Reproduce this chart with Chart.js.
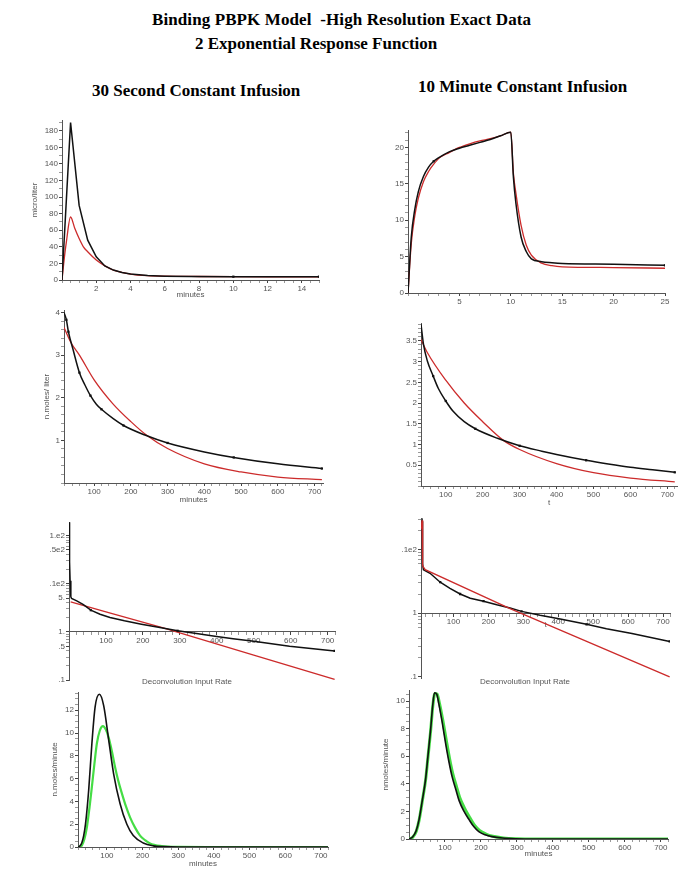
<!DOCTYPE html>
<html>
<head>
<meta charset="utf-8">
<script src="https://cdn.jsdelivr.net/npm/chart.js@4.4.1/dist/chart.umd.min.js"></script>
<style>
  body { margin: 0; background: #fff; width: 685px; height: 886px; position: relative; overflow: hidden; }
  .hd { position: absolute; font: bold 17px "Liberation Serif", "Times New Roman", serif; line-height: 17px; white-space: nowrap; color: #000; }
  .note { position: absolute; font: 8px "Liberation Sans", Arial, sans-serif; color: #555; white-space: nowrap; transform: translateX(-50%); }
</style>
</head>
<body>
<div class="hd" style="left:152px;top:11px;letter-spacing:0.1px">Binding PBPK Model&nbsp; -High Resolution Exact Data</div>
<div class="hd" style="left:195px;top:35px">2 Exponential Response Function</div>
<div class="hd" style="left:92px;top:82px">30 Second Constant Infusion</div>
<div class="hd" style="left:418px;top:78px">10 Minute Constant Infusion</div>

<script>
// ---- data ----
// top left: 30 s infusion, minutes vs concentration
const p1BlackT = [0, 0.5, 1, 1.5, 2, 2.5, 3, 3.5, 4, 5, 6, 7.5, 10, 15];
const p1BlackC = [0, 190, 90, 48, 28, 17, 12, 9, 7.2, 5.3, 4.6, 4.2, 4.0, 4.0];
const p1RedT = [0, 0.1, 0.25, 0.5, 0.75, 1, 1.25, 1.5, 2, 2.5, 3, 4, 5, 6, 8, 10, 12, 15];
const p1RedC = [0, 20, 45, 76, 62, 50, 40, 34, 24, 17, 12, 7.2, 5.2, 4.6, 4.2, 4.0, 3.9, 3.9];
const p1MarkT = [10, 15];
const p1MarkC = [4.0, 4.0];

// top right: 10 min infusion
const p2BlackT = [0, 0.32, 0.65, 1, 1.5, 2, 2.5, 3, 4, 5, 6, 7, 8, 9, 10, 10.25, 10.5, 11, 11.5, 12, 13, 14, 15, 20, 25];
const p2BlackC = [0, 7.7, 11.4, 13.9, 16, 17.3, 18.1, 18.6, 19.4, 19.9, 20.3, 20.7, 21.1, 21.6, 22.1, 16, 12.3, 7.7, 5.7, 4.7, 4.3, 4.15, 4.05, 3.95, 3.8];
const p2RedT = [0, 0.32, 0.65, 1, 1.5, 2, 2.5, 3, 4, 5, 6, 7, 8, 9, 10, 10.25, 10.5, 11, 11.5, 12, 13, 14, 15, 20, 25];
const p2RedC = [0, 6.8, 10.5, 13, 15.3, 16.7, 17.7, 18.5, 19.3, 20.0, 20.5, 20.9, 21.2, 21.6, 22.1, 16.5, 13.7, 9.3, 6.6, 5.2, 4.1, 3.75, 3.6, 3.5, 3.4];
const p2MarkT = [2.5, 25];
const p2MarkC = [18.1, 3.8];

// middle left: response, 30 s infusion
const p3BlackT = [18, 24.5, 30, 43, 60, 75, 90, 106, 120, 152, 180, 240, 300, 400, 480, 600, 720];
const p3BlackC = [4.0, 3.83, 3.55, 3.12, 2.59, 2.30, 2.05, 1.85, 1.73, 1.51, 1.35, 1.12, 0.94, 0.73, 0.60, 0.45, 0.34];
const p3RedT = [18, 38, 60, 100, 150, 200, 243, 300, 400, 500, 600, 720];
const p3RedC = [3.65, 3.28, 3.0, 2.42, 1.87, 1.44, 1.12, 0.81, 0.45, 0.26, 0.14, 0.08];
const p3MarkT = [24.5, 30, 60, 90, 120, 180, 300, 480, 720];
const p3MarkC = [3.83, 3.55, 2.59, 2.05, 1.73, 1.35, 0.94, 0.60, 0.34];

// middle right: response, 10 min infusion
const p4BlackT = [33, 40, 50, 66, 80, 100, 120, 150, 180, 240, 300, 360, 400, 480, 540, 600, 660, 720];
const p4BlackC = [3.9, 3.4, 3.02, 2.65, 2.35, 2.05, 1.8, 1.55, 1.38, 1.15, 0.97, 0.84, 0.76, 0.62, 0.53, 0.45, 0.39, 0.33];
const p4RedT = [33, 50, 100, 150, 200, 256, 300, 400, 500, 600, 720];
const p4RedC = [3.53, 3.22, 2.55, 2.0, 1.55, 1.1, 0.88, 0.54, 0.32, 0.19, 0.1];
const p4MarkT = [66, 100, 180, 300, 480, 720];
const p4MarkC = [2.65, 2.05, 1.38, 0.97, 0.62, 0.33];

// lower left: log plot, 30 s infusion
const p5BlackT = [0.5, 1, 1.5, 2, 3, 5, 7, 21, 39, 59, 84, 111, 150, 196, 246, 294, 345, 395, 444, 500, 597, 719];
const p5BlackC = [187, 90, 48, 28, 11.5, 5.3, 4.9, 4.38, 3.68, 2.81, 2.32, 1.98, 1.69, 1.44, 1.23, 1.05, 0.92, 0.81, 0.72, 0.64, 0.50, 0.40];
const p5RedT = [4.5, 100, 255, 500, 719];
const p5RedC = [4.17, 2.6, 1.2, 0.33, 0.103];
const p5MarkT = [59, 294, 719];
const p5MarkC = [2.81, 1.05, 0.40];

// lower right: log plot, 10 min infusion
const p6BlackT = [7, 9, 10, 11, 12, 14, 33, 62, 90, 119, 148, 186, 224, 262, 295, 348, 402, 481, 538, 611, 719];
const p6BlackC = [24, 27, 28, 10, 6, 4.85, 4.26, 3.08, 2.47, 2.01, 1.72, 1.55, 1.36, 1.21, 1.07, 0.93, 0.82, 0.67, 0.57, 0.48, 0.36];
const p6RedT = [7, 9, 10, 11, 12.5, 19, 262, 719];
const p6RedC = [22, 26, 29, 12, 5.6, 4.85, 1.18, 0.1];
const p6MarkT = [62, 119, 186, 295, 481, 719];
const p6MarkC = [3.08, 2.01, 1.55, 1.07, 0.67, 0.36];

// bottom left: deconvolution input rate, 30 s infusion
const p7BlackT = [19, 25, 30, 35, 40, 49, 58, 67, 79, 91, 105, 119, 137, 156, 174, 202, 230, 260, 300, 400, 720];
const p7BlackC = [0, 0.1, 0.4, 1.0, 2.0, 5.0, 9.1, 12.3, 13.4, 12.4, 9.4, 6.4, 3.8, 2.0, 1.0, 0.35, 0.1, 0.03, 0, 0, 0];
const p7GreenT = [19, 25, 30, 37, 44, 51, 58, 65, 72, 80, 89, 97, 105, 114, 123, 132, 142, 153, 165, 179, 193, 207, 221, 235, 249, 270, 300, 400, 720];
const p7GreenC = [0, 0.05, 0.15, 0.7, 1.75, 3.4, 5.3, 7.3, 9.1, 10.2, 10.6, 10.3, 9.6, 8.4, 7.0, 5.8, 4.7, 3.6, 2.6, 1.7, 1.0, 0.6, 0.3, 0.17, 0.1, 0.04, 0.01, 0, 0];

// bottom right: deconvolution input rate, 10 min infusion
const p8BlackT = [0, 10, 20, 28, 37, 46, 53, 60, 66, 71, 77, 83, 92, 102, 111, 120, 130, 139, 153, 167, 180, 194, 212, 231, 260, 296, 350, 720];
const p8BlackC = [0, 0.15, 0.6, 1.4, 2.8, 4.3, 6.1, 7.9, 9.7, 10.6, 10.5, 9.8, 8.5, 6.9, 5.6, 4.5, 3.6, 2.8, 2.0, 1.4, 0.9, 0.53, 0.3, 0.17, 0.07, 0.02, 0, 0];
const p8GreenT = [0, 10, 20, 28, 37, 46, 53, 60, 66, 72, 78, 85, 94, 104, 113, 122, 132, 141, 155, 169, 182, 196, 214, 233, 262, 300, 350, 720];
const p8GreenC = [0, 0.12, 0.55, 1.35, 2.75, 4.25, 6.0, 7.8, 9.6, 10.55, 10.5, 9.8, 8.6, 7.1, 5.8, 4.7, 3.8, 3.0, 2.2, 1.55, 1.0, 0.62, 0.36, 0.2, 0.08, 0.02, 0, 0];

// tick labels
const p1XTicks = [2, 4, 6, 8, 10, 12, 14];
const p1YTicks = [0, 20, 40, 60, 80, 100, 120, 140, 160, 180];
const p2XTicks = [5, 10, 15, 20, 25];
const p2YTicks = [0, 5, 10, 15, 20];
const minuteTicks = [100, 200, 300, 400, 500, 600, 700];
const p3YTicks = [1, 2, 3, 4];
const p4YTicks = [0.5, 1, 1.5, 2, 2.5, 3, 3.5];
const p5YTicks = [0.1, 0.5, 1, 5, 10, 50, 100];
const p5YLabels = ['.1', '.5', '1.', '5.', '.1e2', '.5e2', '1.e2'];
const p6YTicks = [0.1, 1, 10];
const p6YLabels = ['.1', '1', '.1e2'];
const p7YTicks = [0, 2, 4, 6, 8, 10, 12];
const p8YTicks = [0, 2, 4, 6, 8, 10];

// ---- drawing ----
const INK = '#111', RED = '#cc2b2b', GREEN = '#45dd45', AXIS = '#555', LABEL = '#555';
const smallFont = { family: 'Liberation Sans, Arial, sans-serif', size: 8 };

const pts = (xs, ys) => xs.map((x, i) => ({ x, y: ys[i] }));
const range = (a, b, step) => {
    const out = [];
    for (let v = a; v <= b + 1e-9; v += step) out.push(+v.toFixed(6));
    return out;
};
const logMinor = [0.2, 0.3, 0.4, 0.6, 0.7, 0.8, 0.9, 2, 3, 4, 6, 7, 8, 9, 20, 30, 40, 60, 70, 80, 90];

const line = (xs, ys, color, width, smooth) => ({
    data: pts(xs, ys), borderColor: color, borderWidth: width, pointRadius: 0,
    fill: false, cubicInterpolationMode: smooth ? 'monotone' : 'default', tension: 0
});
const marks = (xs, ys) => ({
    data: pts(xs, ys), showLine: false, pointStyle: 'rect', pointRadius: 1.6,
    backgroundColor: INK, borderColor: INK, borderWidth: 0
});

const axis = (o) => ({
    type: o.log ? 'logarithmic' : 'linear',
    min: o.min, max: o.max,
    position: o.position,
    bounds: 'data',
    afterBuildTicks: s => {
        const all = [...new Set([...(o.minor || []), ...o.ticks])]
            .filter(v => v >= o.min && v <= o.max).sort((a, b) => a - b);
        s.ticks = all.map(v => ({ value: v }));
    },
    afterFit: s => {
        if (s.isHorizontal()) s.height = o.size; else s.width = o.size;
    },
    ticks: {
        autoSkip: false, maxRotation: 0, minRotation: 0, padding: 1,
        color: LABEL, font: smallFont,
        callback: v => {
            const i = o.ticks.indexOf(v);
            return i < 0 ? '' : (o.labels ? o.labels[i] : String(v));
        }
    },
    grid: {
        drawOnChartArea: false, drawTicks: true, tickLength: 3, tickWidth: 1,
        tickColor: c => (c.tick && c.tick.label) ? '#444' : '#999'
    },
    border: { display: true, color: AXIS, width: 1, dash: o.dash || [] },
    title: { display: !!o.title, text: o.title || '', color: LABEL, font: smallFont, padding: 0 }
});

const panels = [
    { l: 62, r: 319, t: 120, b: 280, yw: 32, xh: 20,
      x: { min: 0, max: 15, ticks: p1XTicks, minor: range(0, 15, 0.5), title: 'minutes' },
      y: { min: 0, max: 193, ticks: p1YTicks, minor: range(0, 190, 10), title: 'micro/liter' },
      sets: [marks(p1MarkT, p1MarkC), line(p1BlackT, p1BlackC, INK, 1.5, false), line(p1RedT, p1RedC, RED, 1.3, true)] },
    { l: 408, r: 665, t: 130, b: 293, yw: 26, xh: 16,
      x: { min: 0, max: 25, ticks: p2XTicks, minor: range(0, 25, 1) },
      y: { min: 0, max: 22.4, ticks: p2YTicks, minor: range(0, 22, 1) },
      sets: [marks(p2MarkT, p2MarkC), line(p2BlackT, p2BlackC, INK, 1.5, true), line(p2RedT, p2RedC, RED, 1.3, true)] },
    { l: 64, r: 323, t: 310, b: 483, yw: 22, xh: 22,
      x: { min: 18, max: 723, ticks: minuteTicks, minor: range(20, 720, 20), title: 'minutes' },
      y: { min: 0, max: 4.06, ticks: p3YTicks, minor: range(0, 4, 0.2), title: 'n.moles/ liter' },
      sets: [marks(p3MarkT, p3MarkC), line(p3BlackT, p3BlackC, INK, 1.5, true), line(p3RedT, p3RedC, RED, 1.3, true)] },
    { l: 421, r: 677, t: 323, b: 486, yw: 30, xh: 22,
      x: { min: 33, max: 726, ticks: minuteTicks, minor: range(40, 720, 20), title: 't' },
      y: { min: 0, max: 3.93, ticks: p4YTicks, minor: range(0, 3.9, 0.1) },
      sets: [marks(p4MarkT, p4MarkC), line(p4BlackT, p4BlackC, INK, 1.5, true), line(p4RedT, p4RedC, RED, 1.3, true)] },
    { l: 69, r: 335, t: 522, b: 680, yw: 30, xh: 0, padBottom: 8,
      x: { min: 0, max: 720, ticks: minuteTicks, minor: range(20, 720, 20), position: { y: 1 }, dash: [1, 4] },
      y: { log: true, min: 0.1, max: 190, ticks: p5YTicks, labels: p5YLabels, minor: logMinor },
      sets: [marks(p5MarkT, p5MarkC), line(p5BlackT, p5BlackC, INK, 1.5, false), line(p5RedT, p5RedC, RED, 1.3, false)] },
    { l: 421, r: 670, t: 518, b: 668, yw: 30, xh: 16,
      x: { min: 7, max: 720, ticks: minuteTicks, minor: range(20, 720, 20), position: { y: 1 }, dash: [1, 4], title: 't' },
      y: { log: true, min: 0.095, max: 31.6, ticks: p6YTicks, labels: p6YLabels, minor: logMinor },
      sets: [marks(p6MarkT, p6MarkC), line(p6RedT, p6RedC, RED, 1.3, false), line(p6BlackT, p6BlackC, INK, 1.5, false)] },
    { l: 78, r: 328, t: 692, b: 847, yw: 28, xh: 22,
      x: { min: 19, max: 720, ticks: minuteTicks, minor: range(20, 720, 20), title: 'minutes' },
      y: { min: 0, max: 13.6, ticks: p7YTicks, minor: range(0, 13.5, 0.5), title: 'n.moles/minute' },
      sets: [line(p7BlackT, p7BlackC, INK, 1.6, true), line(p7GreenT, p7GreenC, GREEN, 2.2, true)] },
    { l: 409, r: 668, t: 690, b: 839, yw: 28, xh: 20,
      x: { min: 0, max: 720, ticks: minuteTicks, minor: range(20, 720, 20), title: 'minutes', dash: [1, 4] },
      y: { min: 0, max: 10.8, ticks: p8YTicks, minor: range(0, 10.5, 0.5), title: 'nmoles/minute' },
      sets: [line(p8BlackT, p8BlackC, INK, 1.6, true), line(p8GreenT, p8GreenC, GREEN, 3, true)] }
];

const makePanel = (p) => {
    const padTop = 8, padRight = 12, padBottom = p.padBottom || 0;
    const w = p.yw + (p.r - p.l) + padRight;
    const h = padTop + (p.b - p.t) + p.xh + padBottom;
    const canvas = document.createElement('canvas');
    canvas.width = w;
    canvas.height = h;
    canvas.style.cssText = `position:absolute;left:${p.l - p.yw}px;top:${p.t - padTop}px;width:${w}px;height:${h}px`;
    document.body.appendChild(canvas);
    new Chart(canvas, {
        type: 'line',
        data: { datasets: p.sets },
        options: {
            responsive: false, animation: false, events: [],
            layout: { padding: { top: padTop, right: padRight, left: 0, bottom: padBottom } },
            plugins: { legend: { display: false }, tooltip: { enabled: false } },
            scales: {
                x: axis(Object.assign({ size: p.xh, position: 'bottom' }, p.x)),
                y: axis(Object.assign({ size: p.yw, position: 'left' }, p.y))
            }
        }
    });
};

panels.forEach(makePanel);

['Deconvolution Input Rate', 'Deconvolution Input Rate'].forEach((txt, i) => {
    const d = document.createElement('div');
    d.className = 'note';
    d.textContent = txt;
    d.style.left = (i === 0 ? 187 : 525) + 'px';
    d.style.top = '677px';
    document.body.appendChild(d);
});
</script>
</body>
</html>
